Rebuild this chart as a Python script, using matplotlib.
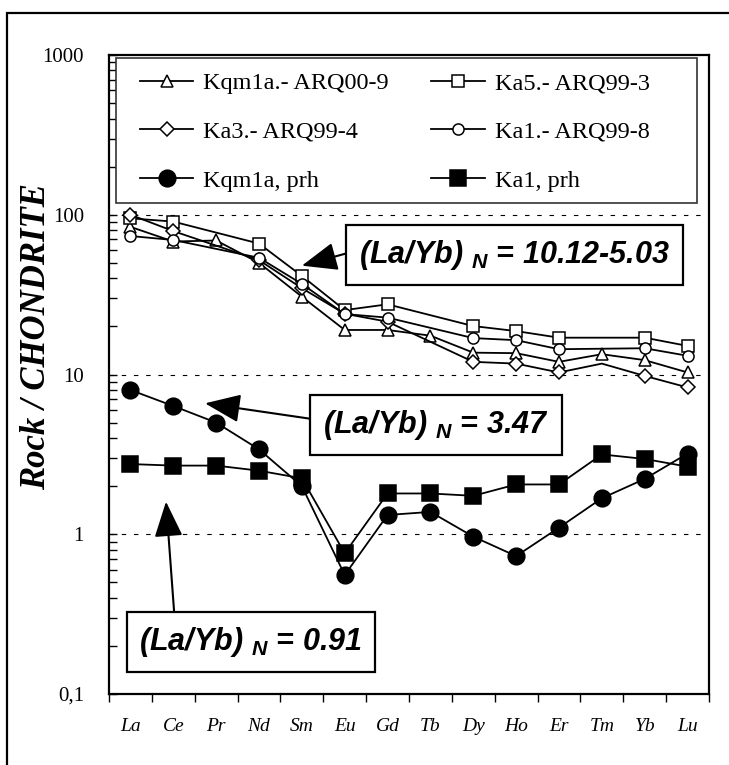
import matplotlib
matplotlib.use("Agg")
import matplotlib.pyplot as plt
import numpy as np
from matplotlib.patches import Rectangle
from matplotlib.ticker import FixedLocator, FixedFormatter, LogLocator, NullFormatter

plt.rcParams['mathtext.fontset'] = 'custom'
plt.rcParams['mathtext.rm'] = 'Liberation Sans:bold:italic'
plt.rcParams['mathtext.it'] = 'Liberation Sans:bold:italic'
plt.rcParams['mathtext.bf'] = 'Liberation Sans:bold:italic'

# ---------------- data ----------------
ree = ['La', 'Ce', 'Pr', 'Nd', 'Sm', 'Eu', 'Gd', 'Tb', 'Dy', 'Ho', 'Er', 'Tm', 'Yb', 'Lu']

kqm1a_arq00_9 = [84, 68, 69, 50, 30.7, 19, 19, 17.5, 13.7, 13.6, 12.0, 13.4, 12.3, 10.3]
ka5_arq99_3   = [95, 90.6, None, 66, 41.4, 25.3, 27.5, None, 20.1, 18.7, 17.0, None, 17.0, 15.1]
ka3_arq99_4   = [100, 79, None, 52, 34.7, 24.0, 21.4, None, 12.0, 11.7, 10.3, 11.7, 9.8, 8.3]
ka1_arq99_8   = [73.6, 69.5, None, 53.8, 36.9, 23.9, 22.7, None, 16.9, 16.4, 14.4, None, 14.6, 13.1]
kqm1a_prh     = [8.0, 6.35, 5.0, 3.4, 2.0, 0.556, 1.32, 1.38, 0.966, 0.73, 1.10, 1.68, 2.22, 3.2]
ka1_prh       = [2.75, 2.69, 2.69, 2.50, 2.24, 0.76, 1.80, 1.80, 1.74, 2.05, 2.05, 3.16, 2.96, 2.65]

# points of a series drawn without a visible marker
ka3_unmarked = ['Tm']

y_ticks = [0.1, 1, 10, 100, 1000]
y_ticklabels = ['0,1', '1', '10', '100', '1000']

ratio_labels = ['10.12-5.03', '3.47', '0.91']

# ---------------- figure ----------------
W, H = 729, 765
fig = plt.figure(figsize=(W / 100, H / 100), dpi=100)
ax = fig.add_axes([109 / W, 1 - 694 / H, 600 / W, 639 / H])


def plot_series(vals, label, marker, ms, mfc, unmarked=()):
    xs = [i for i, v in enumerate(vals) if v is not None]
    ys = [v for v in vals if v is not None]
    mark_idx = [k for k, i in enumerate(xs) if ree[i] not in unmarked]
    ln, = ax.plot(xs, ys, color='black', lw=1.3, marker=marker, ms=ms,
                  mfc=mfc, mec='black', mew=1.1, markevery=mark_idx,
                  label=label, zorder=3)
    return ln


h_tri = plot_series(kqm1a_arq00_9, 'Kqm1a.- ARQ00-9', '^', 9, 'white')
h_sq = plot_series(ka5_arq99_3, 'Ka5.- ARQ99-3', 's', 8, 'white')
h_dia = plot_series(ka3_arq99_4, 'Ka3.- ARQ99-4', 'D', 7, 'white', ka3_unmarked)
h_circ = plot_series(ka1_arq99_8, 'Ka1.- ARQ99-8', 'o', 8, 'white')
h_fc = plot_series(kqm1a_prh, 'Kqm1a, prh', 'o', 12, 'black')
h_fs = plot_series(ka1_prh, 'Ka1, prh', 's', 11, 'black')

ax.set_yscale('log')
ax.set_ylim(0.1, 1000)
ax.set_xlim(-0.5, len(ree) - 0.5)

# gridlines
for g in [1, 10, 100]:
    ax.axhline(g, color='black', lw=0.8, ls=(0, (4, 7)), zorder=1)

# y ticks
ax.yaxis.set_major_locator(FixedLocator(y_ticks))
ax.yaxis.set_major_formatter(FixedFormatter(y_ticklabels))
ax.yaxis.set_minor_locator(LogLocator(base=10, subs=np.arange(2, 10)))
ax.yaxis.set_minor_formatter(NullFormatter())
ax.tick_params(axis='y', which='major', direction='in', length=6, width=1,
               labelsize=15, pad=18)
ax.tick_params(axis='y', which='minor', direction='in', length=6, width=1)
for t in ax.get_yticklabels():
    t.set_fontfamily('Liberation Serif')

# x ticks: labels at categories, tick marks at boundaries
ax.set_xticks(np.arange(len(ree)))
ax.set_xticklabels(ree, fontfamily='Liberation Serif', fontstyle='italic', fontsize=14)
ax.set_xticks(np.arange(-0.5, len(ree)), minor=True)
ax.tick_params(axis='x', which='major', length=0, pad=17)
ax.tick_params(axis='x', which='minor', direction='out', length=6, width=1)

for s in ax.spines.values():
    s.set_linewidth(1.6)
    s.set_color('black')

ax.set_ylabel('Rock / CHONDRITE', fontfamily='Liberation Serif', fontweight='bold',
              fontstyle='italic', fontsize=25)
ax.yaxis.set_label_coords(-0.093, 0.56)

# legend (frame drawn separately to match the reference box)
ax.add_patch(Rectangle((7 / 600, (694 - 203) / 639), (697 - 116) / 600, (203 - 58) / 639,
                       transform=ax.transAxes, fc='white', ec='#333333', lw=1.2,
                       zorder=4))
leg = ax.legend(handles=[h_tri, h_dia, h_fc, h_sq, h_circ, h_fs], ncol=2,
                loc='upper left', bbox_to_anchor=((140 - 109) / 600, (694 - 72) / 639),
                frameon=False,
                prop={'family': 'Liberation Serif', 'size': 17.5},
                numpoints=1, handlelength=2.2, handletextpad=0.4,
                labelspacing=1.1, borderpad=0.0, columnspacing=1.75,
                borderaxespad=0)
leg.set_zorder(5)
for h in leg.legend_handles:
    h.set_markevery([1])

# annotations
bbox_kw = dict(boxstyle='square,pad=0.42', fc='white', ec='black', lw=1.6)
txt_kw = dict(fontsize=22, ha='center', va='center', family='Liberation Sans',
              fontweight='bold', fontstyle='italic', zorder=6)
arrow_kw = dict(arrowstyle='-|>,head_length=1.0,head_width=0.4',
                color='black', lw=1.5, shrinkA=0, shrinkB=0)

ax.annotate('(La/Yb) $_{N}$ = ' + ratio_labels[0], xy=(4, 48), xytext=(8.96, 56),
            bbox=bbox_kw, arrowprops=dict(relpos=(0, 0.65), **arrow_kw), **txt_kw)
ax.annotate('(La/Yb) $_{N}$ = ' + ratio_labels[1], xy=(1.74, 6.6), xytext=(7.13, 4.85),
            bbox=bbox_kw, arrowprops=dict(relpos=(0, 0.62), **arrow_kw), **txt_kw)
ax.annotate('(La/Yb) $_{N}$ = ' + ratio_labels[2], xy=(0.83, 1.6), xytext=(2.81, 0.212),
            bbox=bbox_kw, arrowprops=dict(relpos=(0.16, 1.0), **arrow_kw), **txt_kw)

# outer frame (cropped at right and bottom)
fig.patches.append(Rectangle((7 / W, -0.1), 1.2, (1 - 13 / H) + 0.1,
                             transform=fig.transFigure, fill=False,
                             ec='black', lw=1.6))

fig.savefig('out.png', dpi=100)
